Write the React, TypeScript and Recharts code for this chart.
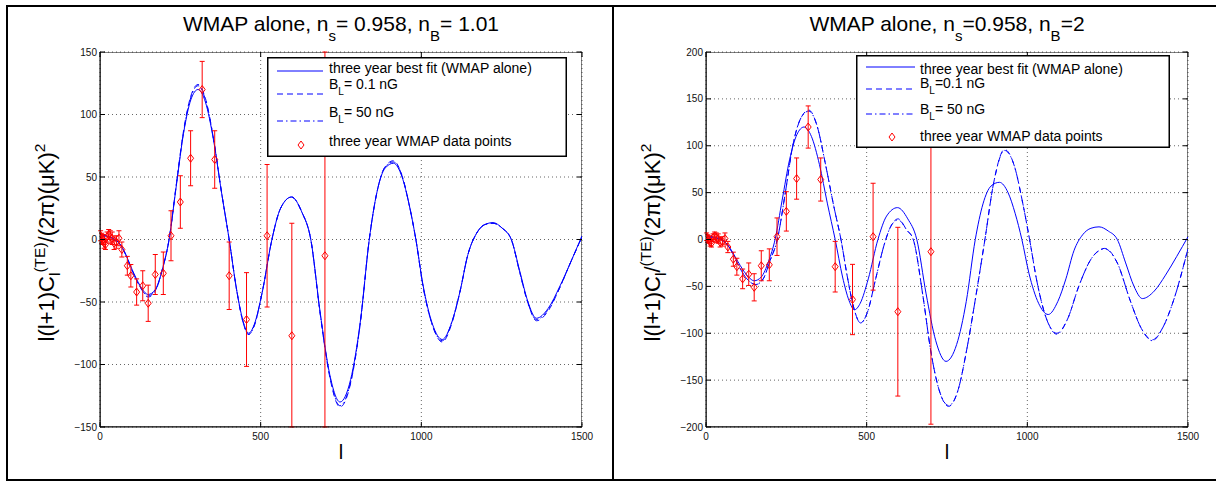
import React from 'react';
import { ComposedChart, Line, Scatter, ErrorBar, XAxis, YAxis, CartesianGrid, Legend, ReferenceArea } from 'recharts';

const FONT = '"Liberation Sans", Arial, Helvetica, sans-serif';
const BLUE = '#0000ff';
const RED = '#ff0000';

// three year WMAP binned TE points
const pointL = [2, 5, 9, 13, 17, 22, 27, 32, 38, 44, 51, 59, 68, 85, 96, 114, 133, 150, 172, 197, 221, 250, 282, 318, 357, 402, 456, 520, 597, 700];
const pointV = [3, 1, 0, -3, -4, 2, 4, 2, 1, -3, -2, 1, -8, -21, -29, -42, -37, -51, -28, -27, 3, 30, 65, 120, 64, -29, -64, 3, -77, -13];
const pointErr = [4, 4, 4, 4, 4, 4, 4, 5, 5, 5, 5, 6, 6, 7.5, 9, 10.5, 12, 14.5, 16, 17, 20, 21, 22, 22.5, 23, 27, 37.5, 57, 90, 184];

// best fit curve (same in both panels)
const fitL = [2, 15, 30, 45, 60, 80, 100, 125, 150, 172, 195, 215, 237, 260, 283, 305, 328, 353, 378, 402, 425, 445, 462, 480, 505, 535, 562, 596, 628, 656, 685, 715, 747, 780, 810, 838, 862, 887, 913, 940, 962, 983, 1005, 1035, 1065, 1095, 1120, 1145, 1172, 1198, 1223, 1252, 1280, 1306, 1332, 1358, 1395, 1430, 1465, 1500];
const fitV = [3, 3, 2, 0, -3, -12, -24, -37, -44, -40, -23, 0, 42, 85, 112, 120, 110, 80, 38, 0, -40, -65, -75, -68, -42, 0, 25, 34, 22, 0, -58, -108, -130, -112, -66, 0, 38, 57, 61, 50, 28, 0, -36, -68, -80, -66, -42, -12, 5, 12, 13.5, 9, 0, -25, -50, -63, -55, -38, -18, 3];

// left panel, n_B = 1.01 (nearly on top of the best fit)
const left01V = [3, 3, 2, 0, -3, -12, -25, -38, -46, -41, -23, 0, 43, 87, 115, 124, 113, 81, 38, 0, -40, -66, -76, -69, -42, 0, 25, 34, 22, 0, -59, -110, -134, -115, -67, 0, 38, 58, 63, 51, 28, 0, -37, -69, -82, -67, -42, -12, 5, 12, 13, 9, 0, -26, -51, -65, -57, -39, -18, 2];
const left50V = [3, 3, 2, 0, -3, -12, -25, -38, -45, -41, -23, 0, 43, 86, 114, 123, 112, 81, 38, 0, -40, -66, -76, -69, -42, 0, 25, 34, 22, 0, -59, -109, -133, -114, -67, 0, 38, 58, 62, 51, 28, 0, -37, -69, -81, -66, -42, -12, 5, 12, 13, 9, 0, -26, -51, -64, -56, -39, -18, 2];

// right panel, n_B = 2
const rightBlL = [2, 30, 60, 80, 100, 125, 155, 178, 200, 222, 246, 270, 296, 320, 345, 372, 398, 420, 440, 460, 481, 502, 528, 555, 575, 598, 625, 645, 675, 700, 725, 755, 785, 810, 840, 868, 895, 929, 960, 985, 1007, 1030, 1060, 1092, 1125, 1160, 1200, 1241, 1280, 1320, 1355, 1389, 1420, 1455, 1500];
const right01V = [3, 2, -3, -13, -27, -41, -48, -42, -22, 0, 48, 100, 130, 138, 122, 80, 35, 0, -40, -73, -89, -78, -42, -5, 14, 22, 10, 0, -60, -120, -160, -178, -160, -120, -60, 0, 60, 96, 78, 40, 0, -45, -85, -100, -85, -50, -20, -9.5, -25, -65, -95, -107, -95, -65, -9.5];
const right50V = [3, 2, -3, -13, -27, -41, -48, -42, -22, 0, 48, 100, 130, 137, 122, 80, 35, 0, -40, -73, -89, -78, -42, -5, 14, 21, 10, 0, -60, -120, -160, -177, -160, -120, -60, 0, 60, 95, 78, 40, 0, -45, -85, -101, -85, -50, -20, -10, -25, -65, -95, -108, -95, -65, -10];

const xTicks = [0, 500, 1000, 1500];
const leftYTicks = [-150, -100, -50, 0, 50, 100, 150];
const rightYTicks = [-200, -150, -100, -50, 0, 50, 100, 150, 200];

const rows = (ls: number[], vs: number[]) => ls.map((l, i) => ({ l, v: vs[i] }));
const points = pointL.map((l, i) => ({ l, v: pointV[i], err: pointErr[i] }));

const fmt = (v: number) => (v < 0 ? '\u2212' + Math.abs(v) : String(v));

// plot box inside each chart
const W = 614;
const H = 481;
const M = { top: 52, right: 32, bottom: 34, left: 60 };
const PLOT_TOP = M.top;
const PLOT_RIGHT = W - M.right;

// MATLAB style: ticks point inwards, on all four sides
const XTick = ({ x, y, payload }: any) => (
  <g>
    <line x1={x} x2={x} y1={y} y2={y - 5} stroke="#000" />
    <line x1={x} x2={x} y1={PLOT_TOP} y2={PLOT_TOP + 5} stroke="#000" />
    <text x={x} y={y + 13} textAnchor="middle" fontSize={10} fill="#111" fontFamily={FONT}>{fmt(payload.value)}</text>
  </g>
);
const YTick = ({ x, y, payload }: any) => (
  <g>
    <line x1={x} x2={x + 5} y1={y} y2={y} stroke="#000" />
    <line x1={PLOT_RIGHT} x2={PLOT_RIGHT - 5} y1={y} y2={y} stroke="#000" />
    <text x={x - 3} y={y + 3.5} textAnchor="end" fontSize={10} fill="#111" fontFamily={FONT}>{fmt(payload.value)}</text>
  </g>
);

const Diamond = ({ cx, cy }: any) => (
  <path d={`M${cx},${cy - 4}L${cx + 3},${cy}L${cx},${cy + 4}L${cx - 3},${cy}Z`} fill="none" stroke={RED} strokeWidth={1} />
);

type LegendRow = { kind: string; lineY: number; textY: number; label: React.ReactNode };
type LegendCfg = { left: number; top: number; w: number; h: number; x1: number; x2: number; tx: number; mx: number; rows: LegendRow[] };

const LegendBox = ({ cfg }: { cfg: LegendCfg }) => (
  <svg width={cfg.w} height={cfg.h} style={{ display: 'block' }}>
    <rect x={0.75} y={0.75} width={cfg.w - 1.5} height={cfg.h - 1.5} fill="#fff" stroke="#000" strokeWidth={1.5} />
    {cfg.rows.map((r, i) => (
      <g key={i}>
        {r.kind === 'marker' ? (
          <Diamond cx={cfg.mx} cy={r.lineY} />
        ) : (
          <line
            x1={cfg.x1}
            x2={cfg.x2}
            y1={r.lineY}
            y2={r.lineY}
            stroke={BLUE}
            strokeWidth={1}
            strokeDasharray={r.kind === 'dash' ? '6 4' : r.kind === 'dashdot' ? '6 3 1.5 3' : undefined}
          />
        )}
        <text x={cfg.tx} y={r.textY} fontSize={14} fontFamily={FONT} fill="#000">{r.label}</text>
      </g>
    ))}
  </svg>
);

const bl = (rest: string) => (
  <>
    B<tspan fontSize={10} dy={6}>L</tspan>
    <tspan dy={-6}>{rest}</tspan>
  </>
);

type PanelProps = {
  left: number;
  title: React.ReactNode;
  yLabel: React.ReactNode;
  yDomain: number[];
  yTicks: number[];
  bl01: { l: number; v: number }[];
  bl50: { l: number; v: number }[];
  legend: LegendCfg;
};

const Panel = ({ left, title, yLabel, yDomain, yTicks, bl01, bl50, legend }: PanelProps) => {
  const [yMin, yMax] = yDomain;
  // bars running out of the axes are cut at the frame, as in the original
  const errKey = (d: any) => [Math.min(d.err, d.v - yMin), Math.min(d.err, yMax - d.v)];
  return (
    <div style={{ position: 'absolute', left, top: 0, width: W, height: H }}>
      <svg width={W} height={50} style={{ position: 'absolute', left: 0, top: 0 }}>
        <text x={M.left + 40 + (PLOT_RIGHT - M.left - 40) / 2} y={31} textAnchor="middle" fontSize={21} fontFamily={FONT} fill="#000">{title}</text>
      </svg>
      <ComposedChart width={W} height={H} margin={M}>
        <CartesianGrid stroke="#555" strokeDasharray="1 3" strokeWidth={0.9} />
        <XAxis
          dataKey="l"
          type="number"
          domain={[0, 1500]}
          ticks={xTicks}
          interval={0}
          allowDataOverflow
          height={20}
          tickSize={0}
          tickMargin={0}
          tickLine={false}
          tick={XTick}
          axisLine={{ stroke: '#000' }}
          label={(p: any) => (
            <text x={p.viewBox.x + p.viewBox.width / 2} y={459} textAnchor="middle" fontSize={20} fontFamily={FONT} fill="#000">l</text>
          )}
        />
        <YAxis
          dataKey="v"
          type="number"
          domain={yDomain}
          ticks={yTicks}
          interval={0}
          allowDataOverflow
          width={40}
          tickSize={0}
          tickMargin={0}
          tickLine={false}
          tick={YTick}
          axisLine={{ stroke: '#000' }}
          label={(p: any) => {
            const x = p.viewBox.x - 6;
            const y = p.viewBox.y + p.viewBox.height / 2 + 3;
            return (
              <text x={x} y={y} transform={`rotate(-90, ${x}, ${y})`} textAnchor="middle" fontSize={22} fontFamily={FONT} fill="#000">{yLabel}</text>
            );
          }}
        />
        <ReferenceArea x1={0} x2={1500} y1={yMin} y2={yMax} fill="none" stroke="#000" strokeWidth={1} ifOverflow="hidden" />
        <Line data={rows(fitL, fitV)} dataKey="v" type="monotone" stroke={BLUE} strokeWidth={1} dot={false} isAnimationActive={false} />
        <Line data={bl01} dataKey="v" type="monotone" stroke={BLUE} strokeWidth={1} strokeDasharray="6 4" dot={false} isAnimationActive={false} />
        <Line data={bl50} dataKey="v" type="monotone" stroke={BLUE} strokeWidth={1} strokeDasharray="6 3 1.5 3" dot={false} isAnimationActive={false} />
        <Scatter data={points} dataKey="v" shape={Diamond} isAnimationActive={false}>
          <ErrorBar dataKey={errKey} direction="y" width={2.5} stroke={RED} strokeWidth={1} />
        </Scatter>
        <Legend
          layout="horizontal"
          verticalAlign="middle"
          align="center"
          wrapperStyle={{ left: legend.left, top: legend.top, width: legend.w, height: legend.h }}
          content={() => <LegendBox cfg={legend} />}
        />
      </ComposedChart>
    </div>
  );
};

const leftLegend: LegendCfg = {
  left: 267, top: 57, w: 300, h: 100, x1: 10, x2: 56, tx: 62, mx: 34,
  rows: [
    { kind: 'solid', lineY: 14, textY: 16, label: 'three year best fit (WMAP alone)' },
    { kind: 'dash', lineY: 37, textY: 32, label: bl('= 0.1 nG') },
    { kind: 'dashdot', lineY: 64, textY: 60, label: bl('= 50 nG') },
    { kind: 'marker', lineY: 88, textY: 89, label: 'three year WMAP data points' },
  ],
};

const rightLegend: LegendCfg = {
  left: 250, top: 55, w: 314, h: 93, x1: 10, x2: 59, tx: 64, mx: 36,
  rows: [
    { kind: 'solid', lineY: 12, textY: 19, label: 'three year best fit (WMAP alone)' },
    { kind: 'dash', lineY: 34, textY: 33, label: bl('=0.1 nG') },
    { kind: 'dashdot', lineY: 59, textY: 59, label: bl('= 50 nG') },
    { kind: 'marker', lineY: 82, textY: 86, label: 'three year WMAP data points' },
  ],
};

const title = (ns: string, nb: string) => (
  <>
    WMAP alone, n<tspan fontSize={15} dy={10}>s</tspan>
    <tspan dy={-10}>{ns}, n</tspan>
    <tspan fontSize={15} dy={10}>B</tspan>
    <tspan dy={-10}>{nb}</tspan>
  </>
);

const leftYLabel = (
  <>
    l(l+1)C<tspan fontSize={15.5} dy={6}>l</tspan>
    <tspan fontSize={15.5} dy={-15}>(TE)</tspan>
    <tspan dy={9}>/(2π)(μK)</tspan>
    <tspan fontSize={15.5} dy={-9}>2</tspan>
  </>
);

const rightYLabel = (
  <>
    l(l+1)C<tspan fontSize={15.5} dy={6}>l</tspan>
    <tspan dy={-6}>/</tspan>
    <tspan fontSize={15.5} dy={-9}>(TE)</tspan>
    <tspan dy={9}>(2π)(μK)</tspan>
    <tspan fontSize={15.5} dy={-9}>2</tspan>
  </>
);

export default function App() {
  return (
    <div style={{ position: 'absolute', left: 0, top: 0, width: 1216, height: 481, background: '#fff', overflow: 'hidden', fontFamily: FONT }}>
      <div style={{ position: 'absolute', left: 6, top: 5, width: 608, height: 476, border: '2px solid #000', boxSizing: 'border-box' }} />
      <div style={{ position: 'absolute', left: 612, top: 5, width: 640, height: 476, border: '2px solid #000', boxSizing: 'border-box' }} />
      <Panel
        left={0}
        title={title('= 0.958', '= 1.01')}
        yLabel={leftYLabel}
        yDomain={[-150, 150]}
        yTicks={leftYTicks}
        bl01={rows(fitL, left01V)}
        bl50={rows(fitL, left50V)}
        legend={leftLegend}
      />
      <Panel
        left={606}
        title={title('=0.958', '=2')}
        yLabel={rightYLabel}
        yDomain={[-200, 200]}
        yTicks={rightYTicks}
        bl01={rows(rightBlL, right01V)}
        bl50={rows(rightBlL, right50V)}
        legend={rightLegend}
      />
    </div>
  );
}
